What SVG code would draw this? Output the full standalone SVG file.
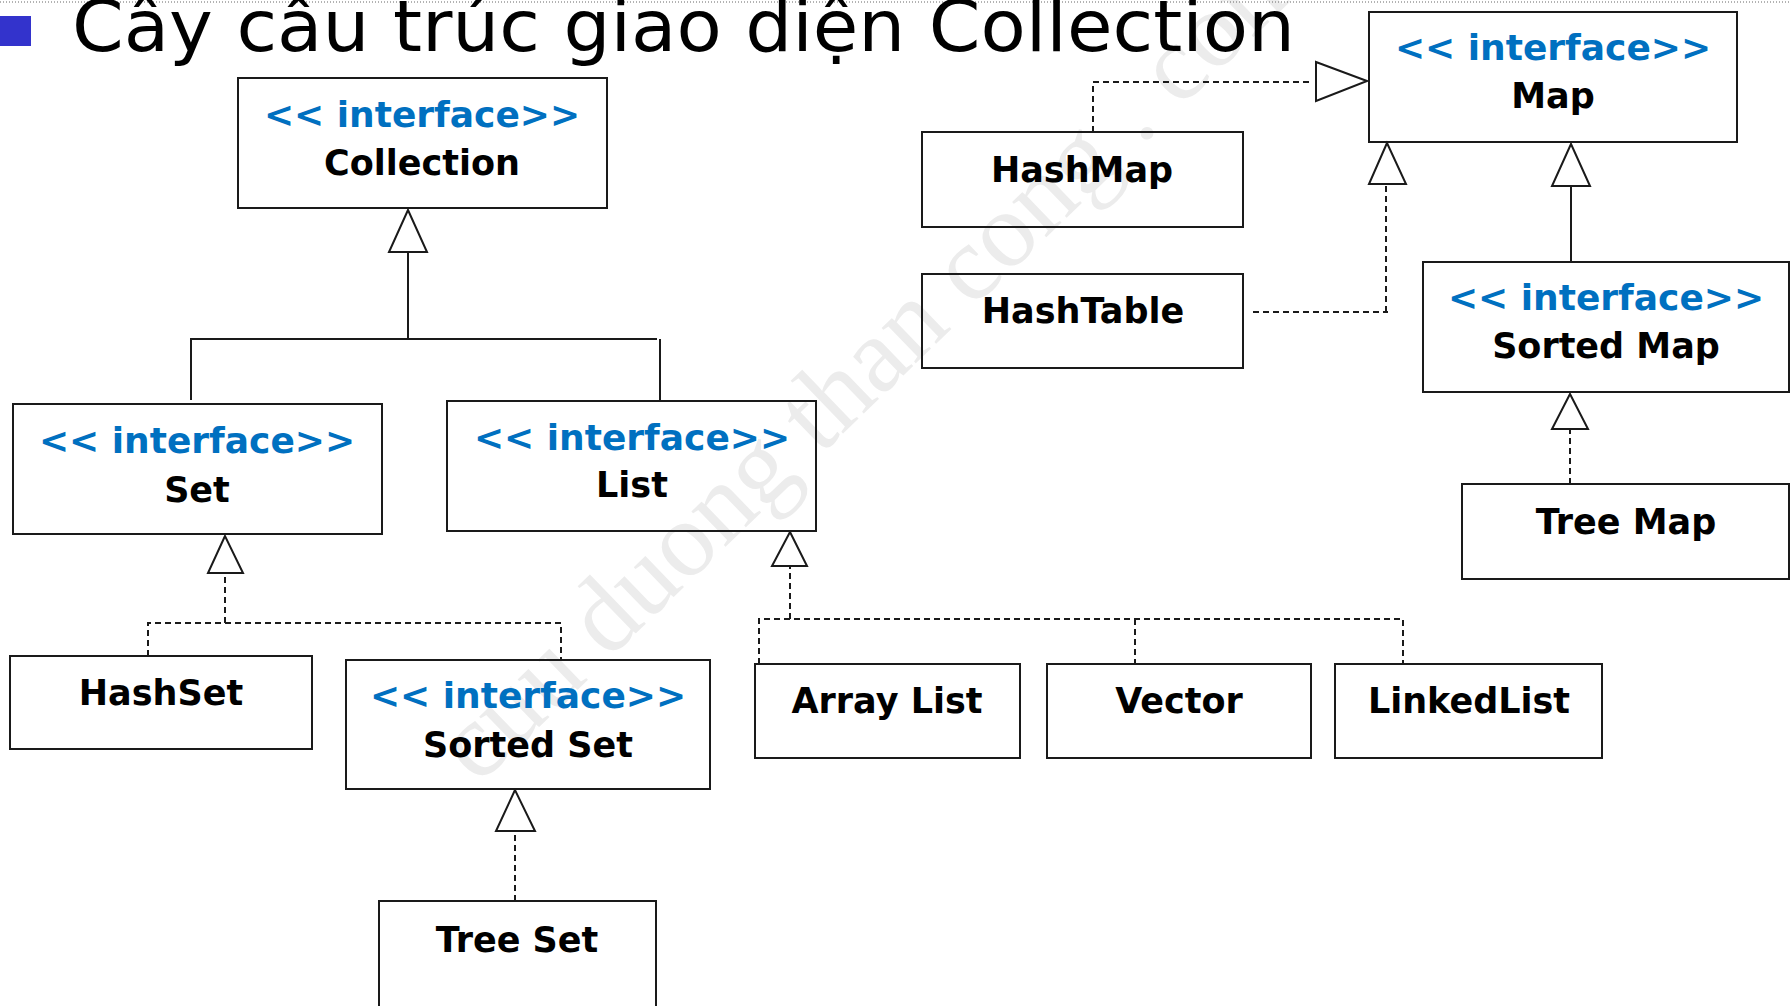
<svg xmlns="http://www.w3.org/2000/svg" width="1791" height="1006" viewBox="0 0 1791 1006">
  <defs>
    <style>
      .box { fill: none; stroke: #1a1a1a; stroke-width: 2; }
      .st { font-family: "DejaVu Sans", Verdana, sans-serif; font-weight: bold; font-size: 36px; fill: #0070c0; text-anchor: middle; }
      .nm { font-family: "DejaVu Sans", Verdana, sans-serif; font-weight: bold; font-size: 35px; fill: #000; text-anchor: middle; }
      .solid { fill: none; stroke: #1a1a1a; stroke-width: 2; }
      .dash { fill: none; stroke: #1a1a1a; stroke-width: 2; stroke-dasharray: 6 4; }
      .tri { fill: #fff; stroke: #1a1a1a; stroke-width: 2; stroke-linejoin: miter; }
    </style>
  </defs>

  <rect width="1791" height="1006" fill="#fff"/>

  <!-- background watermark -->
  <text x="478" y="786" transform="rotate(-44 478 786)" font-family="'Liberation Serif', 'Times New Roman', serif" font-size="107" fill="#ececec">cuu duong than cong . com</text>

  <!-- slide header -->
  <g id="header">
    <line x1="0" y1="2" x2="1791" y2="2" stroke="#666" stroke-width="1" stroke-dasharray="1 2"/>
    <rect x="0" y="16" width="31" height="30" fill="#3333cc"/>
    <text x="72" y="51" font-family="'DejaVu Sans', Tahoma, sans-serif" font-size="72" fill="#000" textLength="1223" lengthAdjust="spacingAndGlyphs">Cây cấu trúc giao diện Collection</text>
  </g>

  <!-- generalization / realization connectors -->
  <g id="connectors">
    <!-- Set, List -> Collection -->
    <polyline class="solid" points="191,400 191,339 657,339"/>
    <line class="solid" x1="660" y1="339" x2="660" y2="401"/>
    <line class="solid" x1="408" y1="339" x2="408" y2="252"/>
    <polygon class="tri" points="408,210 389,252 427,252"/>

    <!-- HashSet, Sorted Set -> Set -->
    <polyline class="dash" points="148,656 148,623 561,623 561,660"/>
    <line class="dash" x1="225" y1="623" x2="225" y2="573"/>
    <polygon class="tri" points="225,536 208,573 243,573"/>

    <!-- Tree Set -> Sorted Set -->
    <line class="dash" x1="515" y1="901" x2="515" y2="831"/>
    <polygon class="tri" points="515,790 496,831 535,831"/>

    <!-- Array List, Vector, LinkedList -> List -->
    <polyline class="dash" points="759,664 759,619 1403,619 1403,664"/>
    <line class="dash" x1="1135" y1="619" x2="1135" y2="664"/>
    <line class="dash" x1="790" y1="619" x2="790" y2="566"/>
    <polygon class="tri" points="790,532 772,566 807,566"/>

    <!-- HashMap -> Map -->
    <polyline class="dash" points="1093,132 1093,82 1312,82"/>
    <polygon class="tri" points="1367,81 1316,62 1316,101"/>

    <!-- HashTable -> Map -->
    <polyline class="dash" points="1253,312 1388,312"/>
    <line class="dash" x1="1386" y1="312" x2="1386" y2="184"/>
    <polygon class="tri" points="1387,143 1369,184 1406,184"/>

    <!-- Sorted Map -> Map -->
    <line class="solid" x1="1571" y1="262" x2="1571" y2="186"/>
    <polygon class="tri" points="1571,144 1552,186 1590,186"/>

    <!-- Tree Map -> Sorted Map -->
    <line class="dash" x1="1570" y1="484" x2="1570" y2="429"/>
    <polygon class="tri" points="1570,394 1552,429 1588,429"/>
  </g>

  <g id="collection">
    <rect class="box" x="238" y="78" width="369" height="130"/>
    <text class="st" x="422" y="127">&lt;&lt; interface&gt;&gt;</text>
    <text class="nm" x="422" y="175">Collection</text>
  </g>

  <g id="set">
    <rect class="box" x="13" y="404" width="369" height="130"/>
    <text class="st" x="197" y="453">&lt;&lt; interface&gt;&gt;</text>
    <text class="nm" x="197" y="502">Set</text>
  </g>

  <g id="list">
    <rect class="box" x="447" y="401" width="369" height="130"/>
    <text class="st" x="632" y="450">&lt;&lt; interface&gt;&gt;</text>
    <text class="nm" x="632" y="497">List</text>
  </g>

  <g id="hashset">
    <rect class="box" x="10" y="656" width="302" height="93"/>
    <text class="nm" x="161" y="705">HashSet</text>
  </g>

  <g id="sortedset">
    <rect class="box" x="346" y="660" width="364" height="129"/>
    <text class="st" x="528" y="708">&lt;&lt; interface&gt;&gt;</text>
    <text class="nm" x="528" y="757">Sorted Set</text>
  </g>

  <g id="treeset">
    <rect class="box" x="379" y="901" width="277" height="120"/>
    <text class="nm" x="517" y="952">Tree Set</text>
  </g>

  <g id="arraylist">
    <rect class="box" x="755" y="664" width="265" height="94"/>
    <text class="nm" x="887" y="713">Array List</text>
  </g>

  <g id="vector">
    <rect class="box" x="1047" y="664" width="264" height="94"/>
    <text class="nm" x="1179" y="713">Vector</text>
  </g>

  <g id="linkedlist">
    <rect class="box" x="1335" y="664" width="267" height="94"/>
    <text class="nm" x="1469" y="713">LinkedList</text>
  </g>

  <g id="map">
    <rect class="box" x="1369" y="12" width="368" height="130"/>
    <text class="st" x="1553" y="60">&lt;&lt; interface&gt;&gt;</text>
    <text class="nm" x="1553" y="108">Map</text>
  </g>

  <g id="hashmap">
    <rect class="box" x="922" y="132" width="321" height="95"/>
    <text class="nm" x="1082" y="182">HashMap</text>
  </g>

  <g id="hashtable">
    <rect class="box" x="922" y="274" width="321" height="94"/>
    <text class="nm" x="1083" y="323">HashTable</text>
  </g>

  <g id="sortedmap">
    <rect class="box" x="1423" y="262" width="366" height="130"/>
    <text class="st" x="1606" y="310">&lt;&lt; interface&gt;&gt;</text>
    <text class="nm" x="1606" y="358">Sorted Map</text>
  </g>

  <g id="treemap">
    <rect class="box" x="1462" y="484" width="327" height="95"/>
    <text class="nm" x="1626" y="534">Tree Map</text>
  </g>
</svg>
